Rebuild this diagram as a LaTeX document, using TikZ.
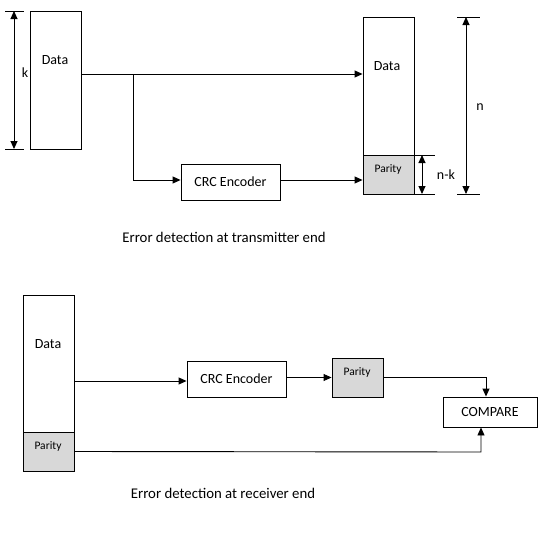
\documentclass[tikz,border=0pt]{standalone}
\usepackage{fontspec}
\setmainfont{Carlito}
\usetikzlibrary{arrows.meta,calc}
\definecolor{pgray}{RGB}{216,216,216}
\tikzset{
  box/.style={draw=black,line width=0.9pt,inner sep=0pt,font=\fontsize{14}{16}\selectfont},
  pbox/.style={box,fill=pgray,font=\fontsize{11.5}{13}\selectfont},
  conn/.style={line width=0.9pt,-{Triangle[length=8pt,width=7pt]}},
  dim/.style={line width=0.9pt,{Triangle[length=8pt,width=7pt]}-{Triangle[length=8pt,width=7pt]}},
  tick/.style={line width=0.9pt},
  lbl/.style={font=\fontsize{14}{16}\selectfont,inner sep=0pt},
  captxt/.style={font=\fontsize{14.8}{17}\selectfont,inner sep=0pt},
}
\begin{document}
\begin{tikzpicture}[x=1pt,y=-1pt]
\useasboundingbox (0,0) rectangle (555,533);
% ---------- transmitter ----------
\node[box,minimum width=51pt,minimum height=138pt] (d1) at (55.5,80) {};
\node[lbl] at (55,60) {Data};
\coordinate (k1) at (14,11);
\coordinate (k2) at (14,149);
\draw[tick] (5,11) -- (24,11);
\draw[tick] (5,149) -- (24,149);
\draw[dim] (k1) -- (k2);
\node[lbl] at (25,73) {k};

\node[box,minimum width=51pt,minimum height=138pt] (d2) at (388.5,86) {};
\node[lbl] at (387,66) {Data};
\node[pbox,minimum width=51pt,minimum height=39pt] (p2) at (388.5,174.5) {};
\node[font=\fontsize{11.5}{13}\selectfont,inner sep=0pt] at (388,169) {Parity};

\node[box,minimum width=99pt,minimum height=36pt] (enc) at (230.5,182) {CRC Encoder};

\coordinate (j) at (133,74);
\coordinate (jb) at (133,180);
\draw[conn] (d1.east |- j) -- (d2.west |- j);
\draw[line width=0.9pt] (j) -- (jb);
\draw[conn] (jb) -- (enc.west |- jb);
\draw[conn] (enc.east |- jb) -- (p2.west |- jb);

% n-k
\draw[tick] (414,155) -- (435,155);
\draw[tick] (414,194) -- (435,194);
\coordinate (nk1) at (422,155);
\coordinate (nk2) at (422,194);
\draw[dim] (nk1) -- (nk2);
\node[lbl] at (446,175) {n-k};
% n
\draw[tick] (457,17) -- (480,17);
\draw[tick] (457,194) -- (480,194);
\coordinate (n1) at (466,17);
\coordinate (n2) at (466,194);
\draw[dim] (n1) -- (n2);
\node[lbl] at (480,107) {n};

\node[captxt] (cap1) at (224,237) {Error detection at transmitter end};

% ---------- receiver ----------
\node[box,minimum width=51pt,minimum height=137pt] (d3) at (48.5,363.5) {};
\node[lbl] at (48,344) {Data};
\node[pbox,minimum width=51pt,minimum height=39pt] (p3) at (48.5,451.5) {};
\node[font=\fontsize{11.5}{13}\selectfont,inner sep=0pt] at (48,446) {Parity};

\node[box,minimum width=99pt,minimum height=36pt] (enc2) at (236.5,379) {CRC Encoder};
\node[pbox,minimum width=51pt,minimum height=39pt] (p4) at (357.5,377.5) {};
\node[font=\fontsize{11.5}{13}\selectfont,inner sep=0pt] at (357,372) {Parity};
\node[box,minimum width=94pt,minimum height=30pt] (cmp) at (490,412) {COMPARE};

\coordinate (r1) at (74,381);
\draw[conn] (r1) -- (enc2.west |- r1);
\draw[conn] (enc2.east |- p4.west) -- (p4.west);
\coordinate (c1) at (486,377.5);
\draw[conn] (p4.east) -- (c1) -- (c1 |- cmp.north);
\coordinate (c2) at (481,452);
\draw[conn] (p3.east) -- (c2) -- (c2 |- cmp.south);

\node[captxt] (cap2) at (223,493) {Error detection at receiver end};
\end{tikzpicture}
\end{document}
